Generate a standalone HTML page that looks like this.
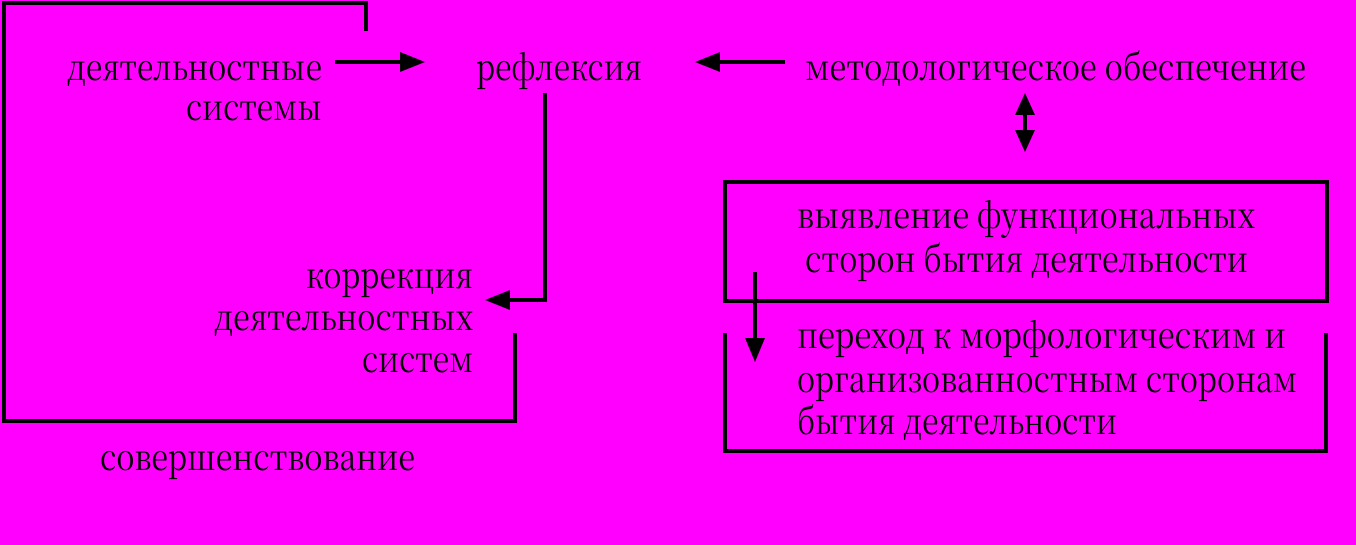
<!DOCTYPE html>
<html><head><meta charset="utf-8"><style>
html,body{margin:0;padding:0;background:#ff00ff;}
svg{display:block}
text{font-family:"Noto Serif CJK SC","Liberation Serif",serif;font-size:36px;fill:#000;}
</style></head><body>
<svg width="1356" height="545" viewBox="0 0 1356 545" xmlns="http://www.w3.org/2000/svg">
<rect width="1356" height="545" fill="#ff00ff"/>
<g stroke="#000" stroke-width="4" fill="none">
<polyline points="366,31 366,3 4,3 4,421 515,421 515,333"/>
<line x1="335" y1="62" x2="400" y2="62"/>
<polyline points="545,93 545,300 505,300"/>
<line x1="785" y1="62" x2="718" y2="62"/>
<line x1="1025" y1="110" x2="1025" y2="136"/>
<rect x="725" y="182" width="602" height="119"/>
<polyline points="725,333 725,451 1326,451 1326,333"/>
<line x1="755" y1="272" x2="755" y2="340"/>
</g>
<g fill="#000">
<polygon points="400,52 425,62 400,72"/>
<polygon points="510,290 485,300 510,310"/>
<polygon points="720,52 695,62 720,72"/>
<polygon points="1015,115 1025,93 1035,115"/>
<polygon points="1015,130 1025,152 1035,130"/>
<polygon points="745,338 755,362 765,338"/>
</g>
<text x="67" y="80" textLength="255" lengthAdjust="spacingAndGlyphs">деятельностные</text>
<text x="186" y="120" textLength="136" lengthAdjust="spacingAndGlyphs">системы</text>
<text x="476" y="80" textLength="166" lengthAdjust="spacingAndGlyphs">рефлексия</text>
<text x="805" y="80" textLength="501" lengthAdjust="spacingAndGlyphs">методологическое обеспечение</text>
<text x="306" y="288" textLength="167" lengthAdjust="spacingAndGlyphs">коррекция</text>
<text x="214" y="330" textLength="259" lengthAdjust="spacingAndGlyphs">деятельностных</text>
<text x="362" y="372" textLength="111" lengthAdjust="spacingAndGlyphs">систем</text>
<text x="100" y="470" textLength="315" lengthAdjust="spacingAndGlyphs">совершенствование</text>
<text x="797" y="228" textLength="458" lengthAdjust="spacingAndGlyphs">выявление функциональных</text>
<text x="805" y="272" textLength="443" lengthAdjust="spacingAndGlyphs">сторон бытия деятельности</text>
<text x="797" y="348" textLength="489" lengthAdjust="spacingAndGlyphs">переход к морфологическим и</text>
<text x="797" y="392" textLength="500" lengthAdjust="spacingAndGlyphs">организованностным сторонам</text>
<text x="797" y="434" textLength="320" lengthAdjust="spacingAndGlyphs">бытия деятельности</text>
</svg>
</body></html>
